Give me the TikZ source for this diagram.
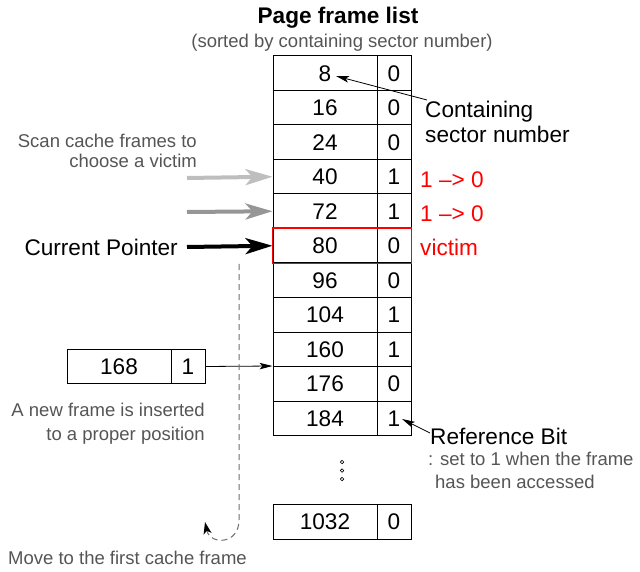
\documentclass[tikz,border=0pt]{standalone}
\usepackage{fontspec}
\setmainfont{Liberation Sans}
\usetikzlibrary{arrows.meta}
\definecolor{txtgray}{RGB}{85,85,85}
\definecolor{lightarr}{RGB}{190,190,190}
\definecolor{midarr}{RGB}{150,150,150}
\definecolor{dashgray}{RGB}{110,110,110}
\begin{document}
\begin{tikzpicture}[x=1pt,y=-1pt,
  bigfont/.style={font=\fontsize{22.6}{26}\selectfont},
  smallfont/.style={font=\fontsize{18.5}{22}\selectfont, text=txtgray},
  numcell/.style={draw, line width=1pt, minimum width=104pt, minimum height=34.5pt, inner sep=0pt, bigfont},
  bitcell/.style={draw, line width=1pt, minimum width=34pt, minimum height=34.5pt, inner sep=0pt, bigfont},
  lbl/.style={inner sep=0pt, bigfont},
  glbl/.style={inner sep=0pt, smallfont},
  redlbl/.style={inner sep=0pt, bigfont, text=red},
  bigarrow/.style={line width=4pt, -{Stealth[length=27pt,width=16pt,inset=7pt]}},
  thinarrow/.style={line width=0.8pt, -{Stealth[length=13pt,width=6.5pt,inset=3pt]}},
]
\useasboundingbox (0,0) rectangle (640,572);
% title
\node[inner sep=0pt, anchor=base, font=\fontsize{22.6}{26}\selectfont\bfseries] (title) at (338,24) {Page frame list};
\node[glbl, anchor=base] (subtitle) at (342,48) {(sorted by containing sector number)};
% table
\foreach \v/\b [count=\i from 0] in {8/0,16/0,24/0,40/1,72/1,80/0,96/0,104/1,160/1,176/0,184/1} {
  \node[numcell] (n\i) at (325,{73.25+34.5*\i}) {\v};
  \node[bitcell] (b\i) at (394,{73.25+34.5*\i}) {\b};
}
\node[numcell] (nlast) at (325,522) {1032};
\node[bitcell] (blast) at (394,522) {0};
\draw[red, line width=1.5pt] (n5.north west) rectangle (b5.south east);
% dots
\foreach \yy [count=\k] in {462,470.5,479} {
  \node[draw, circle, inner sep=0pt, minimum size=3.5pt, line width=0.7pt] (dot\k) at (342,\yy) {};
}
% containing sector number
\node[lbl, anchor=base west] (cont1) at (425,117.5) {Containing};
\node[lbl, anchor=base west] (cont2) at (425,142.5) {sector number};
\coordinate (contstart) at (427,100);
\coordinate (conttip) at (336,76);
\draw[thinarrow] (contstart) -- (conttip);
% scan cache
\node[glbl, anchor=base east] (scan1) at (197,148) {Scan cache frames to};
\node[glbl, anchor=base east] (scan2) at (197,168) {choose a victim};
\coordinate (a1) at (187,178);
\coordinate (a2) at (187,212);
\coordinate (a3) at (187,247);
\draw[bigarrow, draw=lightarr, color=lightarr] (a1) -- (n3.west);
\draw[bigarrow, draw=midarr, color=midarr] (a2) -- (n4.west);
\draw[bigarrow] (a3) -- (n5.west);
\node[lbl, anchor=base east] (cp) at (178,256) {Current Pointer};
% red labels
\node[redlbl, anchor=base west] (r1) at (420,188) {1 –> 0};
\node[redlbl, anchor=base west] (r2) at (420,222) {1 –> 0};
\node[redlbl, anchor=base west] (vic) at (420,256) {victim};
% new frame
\node[numcell] (newn) at (119,366.5) {168};
\node[bitcell, minimum width=34pt] (newb) at (188,366.5) {1};
\coordinate (ins) at (n9.north west);
\draw[thinarrow] (newb.east) -- (ins);
\node[glbl, anchor=base east] (new1) at (205,416) {A new frame is inserted};
\node[glbl, anchor=base east] (new2) at (205,440) {to a proper position};
% dashed move
\coordinate (d0) at (239,264);
\coordinate (d1) at (239,520);
\coordinate (d2) at (205,522);
\draw[dashgray, line width=1pt, dash pattern=on 6pt off 4pt, -{Stealth[length=12pt,width=8pt,inset=3pt,black]}]
  (d0) -- (d1) .. controls (239,545) and (210,545) .. (d2);
\node[glbl, anchor=base west] (move) at (8,564) {Move to the first cache frame};
% reference bit
\node[lbl, anchor=base west] (ref1) at (430,444) {Reference Bit};
\node[glbl, anchor=base west] (ref2) at (428,465) {: set to 1 when the frame};
\node[glbl, anchor=base west] (ref3) at (435,488) {has been accessed};
\coordinate (refstart) at (430,433);
\coordinate (reftip) at (402,419);
\draw[thinarrow] (refstart) -- (reftip);
\end{tikzpicture}
\end{document}
